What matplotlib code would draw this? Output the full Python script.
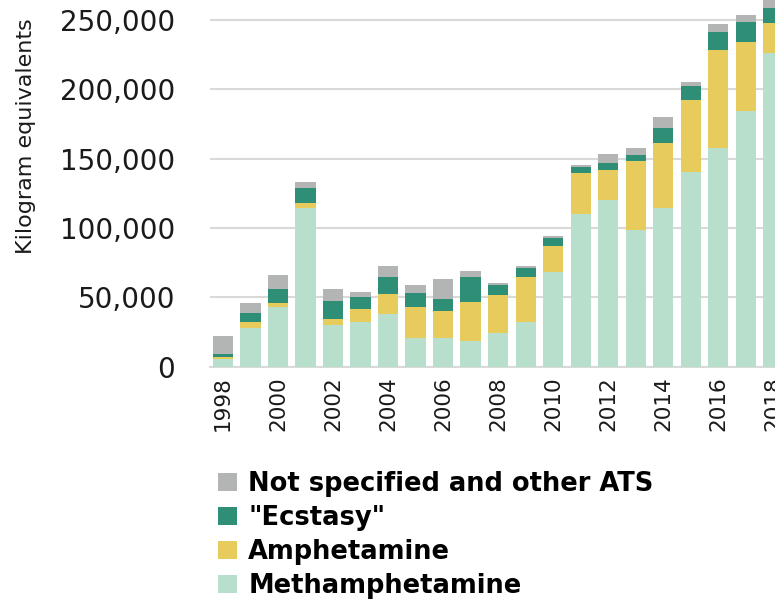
import matplotlib
matplotlib.use("Agg")
import matplotlib.pyplot as plt
import numpy as np

# Seizures of amphetamine-type stimulants, kilogram equivalents
years = list(range(1998, 2019))
meth = [5.3, 27.9, 42.8, 114.6, 30.0, 32.2, 38.0, 20.9, 20.9, 18.5, 24.4,
        32.2, 68.3, 109.9, 120.2, 98.6, 114.4, 140.6, 157.9, 184.6, 226.4]
amph = [1.9, 4.1, 2.9, 3.2, 4.2, 9.4, 14.4, 22.4, 19.5, 28.1, 27.2,
        32.7, 18.9, 29.5, 21.4, 49.5, 47.1, 51.7, 70.4, 49.7, 21.2]
ecstasy = [1.7, 6.5, 10.1, 11.2, 13.4, 8.4, 12.5, 10.1, 8.4, 18.3, 7.4,
           6.5, 5.8, 4.8, 5.5, 4.8, 10.8, 10.1, 13.2, 14.0, 10.8]
other = [13.4, 7.2, 10.3, 4.0, 8.4, 3.9, 7.9, 5.7, 14.2, 3.9, 1.2,
         1.2, 1.2, 1.2, 6.3, 4.8, 8.0, 3.1, 5.6, 5.3, 7.0]

series = [
    ("Methamphetamine", meth, "#b8dfcc"),
    ("Amphetamine", amph, "#e7cb5c"),
    ('"Ecstasy"', ecstasy, "#2e8f76"),
    ("Not specified and other ATS", other, "#b3b5b5"),
]

fig = plt.figure(figsize=(7.75, 6.02), dpi=100)
ax = fig.add_axes([210 / 775, 1 - 366.7 / 602, 565 / 775, 366.7 / 602])

x = np.arange(len(years))
bottom = np.zeros(len(years))
handles = []
for name, vals, color in series:
    v = np.array(vals) * 1000
    b = ax.bar(x, v, 0.73, bottom=bottom, color=color, label=name, zorder=3)
    handles.append(b)
    bottom += v

ax.set_ylim(0, 264400)
ax.set_xlim(-0.473, 20.07)
ax.set_yticks(range(0, 250001, 50000))
ax.set_yticklabels([f"{t:,}" for t in range(0, 250001, 50000)], fontsize=20, color="#1a1a1a")
ax.set_xticks(x[::2])
ax.set_xticklabels([str(y) for y in years[::2]], rotation=90, fontsize=15.5, color="#1a1a1a")
ax.tick_params(axis="y", length=0, pad=25)
ax.tick_params(axis="x", length=0, pad=7)
ax.grid(axis="y", color="#d9d9d9", linewidth=1.5, zorder=0)
for s in ["top", "right", "left"]:
    ax.spines[s].set_visible(False)
ax.spines["bottom"].set_color("#d9d9d9")
ax.spines["bottom"].set_linewidth(1.5)

fig.text(26 / 775, 1 - 136 / 602, "Kilogram equivalents", rotation=90,
         ha="center", va="center", fontsize=16, color="#1a1a1a")

fig.legend(handles[::-1], [s[0] for s in series][::-1], loc="upper left",
           bbox_to_anchor=(218 / 775, 1 - 471 / 602), frameon=False,
           prop={"weight": "bold", "size": 18.5}, handlelength=0.74, handleheight=0.74,
           handletextpad=0.44, labelspacing=0.31, borderpad=0, borderaxespad=0)

fig.savefig("out.png", dpi=100)
